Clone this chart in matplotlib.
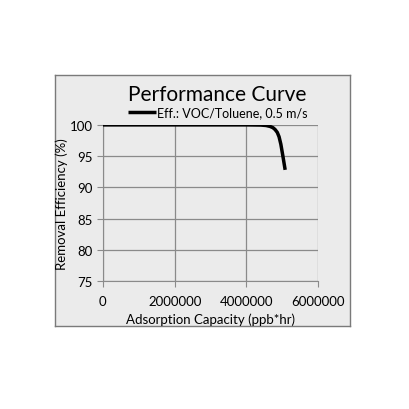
import matplotlib.pyplot as plt

capacity = [0, 1000000, 2000000, 3000000, 4000000, 4400000, 4550000, 4660000, 4740000,
            4800000, 4860000, 4910000, 4960000, 5020000, 5080000]
efficiency = [100, 100, 100, 100, 100, 99.97, 99.9, 99.75, 99.55,
              99.25, 98.8, 98.1, 96.9, 94.9, 92.8]
x_ticks = [0, 2000000, 4000000, 6000000]
y_ticks = [75, 80, 85, 90, 95, 100]

plt.rcParams['font.family'] = ['Lato', 'DejaVu Sans']

fig = plt.figure(figsize=(4.1, 4.1), dpi=100)
fig.patch.set_facecolor('white')

# chart area box (background axes)
bg = fig.add_axes([0.134, 0.202, 0.72, 0.613], zorder=0)
bg.set_facecolor('#ebebeb')
bg.set_xticks([])
bg.set_yticks([])
for s in bg.spines.values():
    s.set_color('#7a7a7a')
    s.set_linewidth(1.0)

ax = fig.add_axes([0.251, 0.312, 0.525, 0.381], zorder=1)
ax.set_facecolor('#ebebeb')
ax.plot(capacity, efficiency, color='black', linewidth=2.5, solid_capstyle='butt',
        solid_joinstyle='round', label='Eff.: VOC/Toluene, 0.5 m/s', zorder=3)

ax.set_xlim(0, 6000000)
ax.set_ylim(75, 100)
ax.set_xticks(x_ticks)
ax.set_yticks(y_ticks)
ax.set_xticklabels([str(v) for v in x_ticks])
ax.grid(True, color='#8a8a8a', linewidth=0.9)
for s in ['top', 'right']:
    ax.spines[s].set_visible(False)
for s in ['left', 'bottom']:
    ax.spines[s].set_color('#8a8a8a')
ax.tick_params(axis='both', colors='#8a8a8a', labelcolor='black', labelsize=9.5, length=4)
ax.tick_params(axis='x', pad=6)

ax.set_xlabel('Adsorption Capacity (ppb*hr)', fontsize=9.5, labelpad=4)
ax.set_ylabel('Removal Efficiency (%)', fontsize=9.5, labelpad=1)

fig.text(0.53, 0.768, 'Performance Curve', fontsize=15, ha='center', va='center', zorder=2)
ax.legend(loc='lower center', bbox_to_anchor=(0.535, 1.0), frameon=False, fontsize=9,
          handlelength=2.2, handletextpad=0.1, borderaxespad=0.1)

fig.savefig('out.png', dpi=100)
